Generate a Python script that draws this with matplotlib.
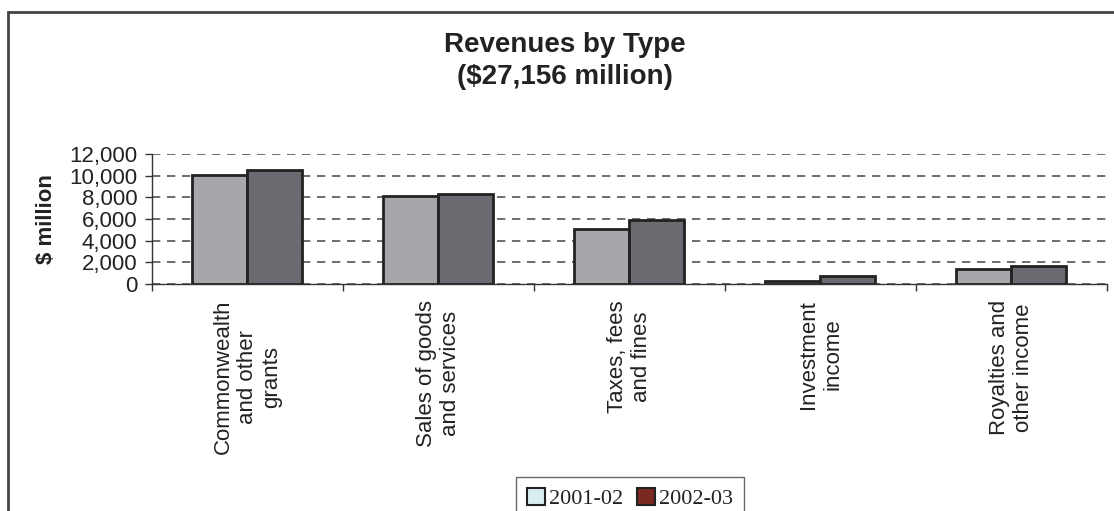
import matplotlib
matplotlib.use('Agg')
import matplotlib.pyplot as plt
from matplotlib.patches import Patch, Rectangle
from matplotlib.ticker import StrMethodFormatter, FixedLocator
import numpy as np

categories = ['Commonwealth\nand other\ngrants', 'Sales of goods\nand services',
              'Taxes, fees\nand fines', 'Investment\nincome', 'Royalties and\nother income']
rev_2001 = [10050, 8150, 5050, 300, 1390]
rev_2002 = [10560, 8320, 5890, 730, 1656]
series_names = ['2001-02', '2002-03']
y_ticks = [0, 2000, 4000, 6000, 8000, 10000, 12000]

plt.rcParams['font.family'] = ['Liberation Sans', 'DejaVu Sans']

fig = plt.figure(figsize=(11.14, 5.11), dpi=100)
ax = fig.add_axes([0.1364, 0.4442, 0.8573, 0.2544])

x = np.arange(len(categories))
w = 0.288
ax.bar(x - w / 2, rev_2001, w, color='#a6a7ab', edgecolor='#222222', linewidth=2, zorder=3)
ax.bar(x + w / 2, rev_2002, w, color='#6a6b70', edgecolor='#222222', linewidth=2, zorder=3)

ax.set_xlim(-0.5, len(categories) - 0.5)
ax.set_ylim(0, 12000)
ax.yaxis.set_major_locator(FixedLocator(y_ticks))
ax.yaxis.set_major_formatter(StrMethodFormatter('{x:,.0f}'))
ax.yaxis.grid(True, linestyle=(0, (5, 4)), color='#555555', linewidth=1.2, zorder=0)

ax.set_xticks(x)
ax.set_xticklabels(categories, rotation=90, ha='center', va='top', multialignment='center')
ax.set_xticks(np.arange(-0.5, len(categories)), minor=True)
ax.tick_params(axis='x', which='major', length=0, pad=11.5, labelsize=16, colors='#222222')
ax.tick_params(axis='x', which='minor', length=5, width=1, color='#333333', direction='out')
ax.tick_params(axis='y', length=5, width=1, color='#333333', pad=5.5, labelsize=16, labelcolor='#222222')

for side in ['top', 'right']:
    ax.spines[side].set_visible(False)
for side in ['left', 'bottom']:
    ax.spines[side].set_color('#333333')
    ax.spines[side].set_linewidth(1)

fig.text(46 / 1114, 1 - 219 / 511, '$ million', rotation=90, ha='center', va='center',
         fontsize=16, fontweight='bold', color='#222222')
fig.text(0.507, 1 - 61.5 / 511, 'Revenues by Type\n($27,156 million)', ha='center', va='center',
         fontsize=20, fontweight='bold', color='#222222', linespacing=1.3)

handles = [Patch(facecolor='#d9efef', edgecolor='#222222', linewidth=1.5),
           Patch(facecolor='#7b2a20', edgecolor='#222222', linewidth=1.5)]
leg = fig.legend(handles, series_names, loc='upper center', bbox_to_anchor=(630 / 1114, 1 - 477 / 511),
                 ncol=2, frameon=True, fancybox=False, handlelength=0.8, handleheight=0.8,
                 handletextpad=0.2, columnspacing=0.6, borderpad=0.5, borderaxespad=0,
                 prop={'family': 'Liberation Serif', 'size': 16})
leg.get_frame().set_edgecolor('#444444')
leg.get_frame().set_linewidth(1)
for t in leg.get_texts():
    t.set_color('#222222')

# outer frame around the chart
fig.add_artist(Rectangle((8 / 1114, -0.2), 1.2, 1.2 - 12 / 511, transform=fig.transFigure,
                         fill=False, edgecolor='#444444', linewidth=2))

fig.savefig('out.png', dpi=100, facecolor='white')
